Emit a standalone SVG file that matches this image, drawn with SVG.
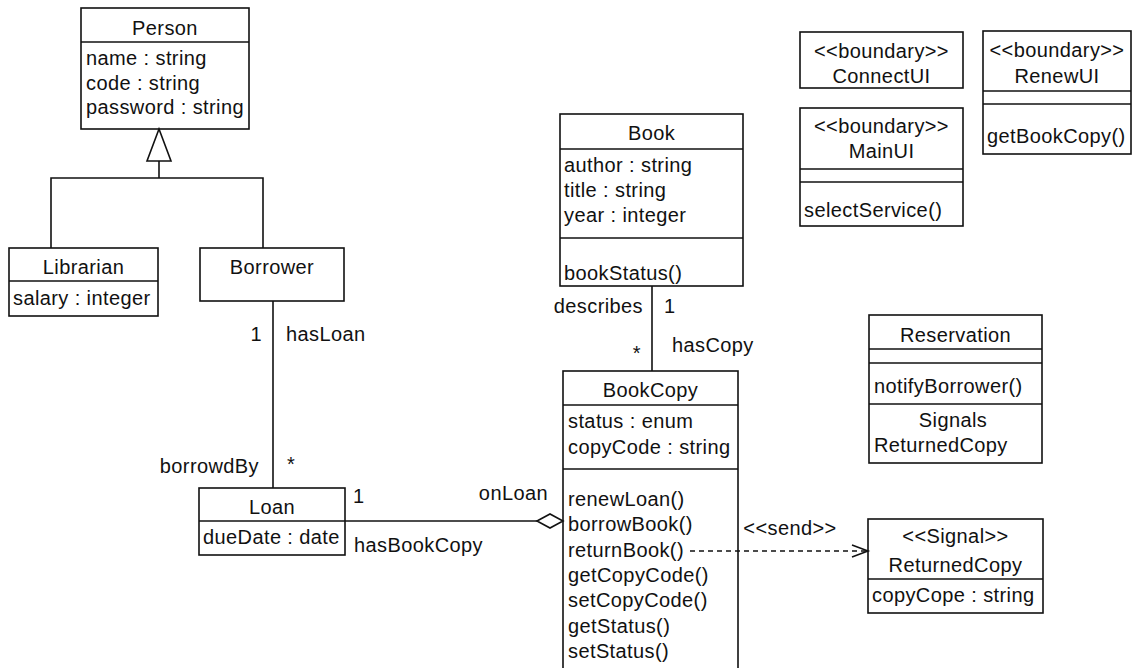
<svg xmlns="http://www.w3.org/2000/svg" width="1133" height="668" viewBox="0 0 1133 668">
  <defs>
    <style>
      text { font-family: "Liberation Sans", Arial, sans-serif; font-size: 20px; letter-spacing: 0.4px; fill: #111; }
      .c { text-anchor: middle; }
      .r { text-anchor: end; }
      .box { fill: #fff; stroke: #111; stroke-width: 1.6; }
      .ln { fill: none; stroke: #111; stroke-width: 1.6; }
      .dash { fill: none; stroke: #111; stroke-width: 1.4; stroke-dasharray: 5 4; }
    </style>
  </defs>
  <rect width="1133" height="668" fill="#fff"/>

  <g id="person">
    <rect class="box" x="81" y="8" width="168" height="121"/>
    <line class="ln" x1="81" y1="42" x2="249" y2="42"/>
    <text x="165" y="35" class="c">Person</text>
    <text x="86" y="65">name : string</text>
    <text x="86" y="90">code : string</text>
    <text x="86" y="114">password : string</text>
  </g>

  <g id="librarian">
    <rect class="box" x="9" y="248" width="149" height="68"/>
    <line class="ln" x1="9" y1="281" x2="158" y2="281"/>
    <text x="83.5" y="274" class="c">Librarian</text>
    <text x="13" y="305">salary : integer</text>
  </g>

  <g id="borrower">
    <rect class="box" x="200" y="248" width="144" height="53"/>
    <text x="272" y="274" class="c">Borrower</text>
  </g>

  <g id="loan">
    <rect class="box" x="199" y="488" width="146" height="67"/>
    <line class="ln" x1="199" y1="521" x2="345" y2="521"/>
    <text x="272" y="514" class="c">Loan</text>
    <text x="203" y="544">dueDate : date</text>
  </g>

  <g id="book">
    <rect class="box" x="560" y="114" width="183" height="172"/>
    <line class="ln" x1="560" y1="149" x2="743" y2="149"/>
    <line class="ln" x1="560" y1="238" x2="743" y2="238"/>
    <text x="651.5" y="140" class="c">Book</text>
    <text x="564" y="172">author : string</text>
    <text x="564" y="197">title : string</text>
    <text x="564" y="222">year : integer</text>
    <text x="564" y="280">bookStatus()</text>
  </g>

  <g id="bookcopy">
    <rect class="box" x="563" y="371" width="175" height="320"/>
    <line class="ln" x1="563" y1="405" x2="738" y2="405"/>
    <line class="ln" x1="563" y1="469" x2="738" y2="469"/>
    <text x="650.5" y="397" class="c">BookCopy</text>
    <text x="568" y="428">status : enum</text>
    <text x="568" y="454">copyCode : string</text>
    <text x="568" y="506">renewLoan()</text>
    <text x="568" y="531">borrowBook()</text>
    <text x="568" y="557">returnBook()</text>
    <text x="568" y="582">getCopyCode()</text>
    <text x="568" y="607">setCopyCode()</text>
    <text x="568" y="633">getStatus()</text>
    <text x="568" y="658">setStatus()</text>
  </g>

  <g id="connectui">
    <rect class="box" x="800" y="32" width="163" height="56"/>
    <text x="881.5" y="58" class="c">&lt;&lt;boundary&gt;&gt;</text>
    <text x="881.5" y="83" class="c">ConnectUI</text>
  </g>

  <g id="mainui">
    <rect class="box" x="800" y="108" width="163" height="118"/>
    <line class="ln" x1="800" y1="169" x2="963" y2="169"/>
    <line class="ln" x1="800" y1="182" x2="963" y2="182"/>
    <text x="881.5" y="133" class="c">&lt;&lt;boundary&gt;&gt;</text>
    <text x="881.5" y="158" class="c">MainUI</text>
    <text x="804" y="217">selectService()</text>
  </g>

  <g id="renewui">
    <rect class="box" x="983" y="31" width="148" height="123"/>
    <line class="ln" x1="983" y1="91" x2="1131" y2="91"/>
    <line class="ln" x1="983" y1="104" x2="1131" y2="104"/>
    <text x="1057" y="57" class="c">&lt;&lt;boundary&gt;&gt;</text>
    <text x="1057" y="83" class="c">RenewUI</text>
    <text x="987" y="143">getBookCopy()</text>
  </g>

  <g id="reservation">
    <rect class="box" x="869" y="315" width="173" height="148"/>
    <line class="ln" x1="869" y1="349" x2="1042" y2="349"/>
    <line class="ln" x1="869" y1="363" x2="1042" y2="363"/>
    <line class="ln" x1="869" y1="404" x2="1042" y2="404"/>
    <text x="955.5" y="342" class="c">Reservation</text>
    <text x="874" y="393">notifyBorrower()</text>
    <text x="953" y="427" class="c">Signals</text>
    <text x="874" y="452">ReturnedCopy</text>
  </g>

  <g id="returnedcopy">
    <rect class="box" x="868" y="519" width="175" height="94"/>
    <line class="ln" x1="868" y1="579" x2="1043" y2="579"/>
    <text x="955.5" y="543" class="c">&lt;&lt;Signal&gt;&gt;</text>
    <text x="955.5" y="572" class="c">ReturnedCopy</text>
    <text x="872" y="602">copyCope : string</text>
  </g>

  <!-- associations, generalization, dependency -->
  <g id="connectors">
    <!-- generalization: Librarian / Borrower to Person -->
    <polyline class="ln" points="51,248 51,178 263,178 263,248"/>
    <line class="ln" x1="159" y1="178" x2="159" y2="161"/>
    <polygon class="ln" points="159,129 147,161 171,161"/>
    <!-- Borrower - Loan -->
    <line class="ln" x1="273" y1="301" x2="273" y2="488"/>
    <text x="262" y="341" class="r">1</text>
    <text x="286" y="341">hasLoan</text>
    <text x="259" y="473" class="r">borrowdBy</text>
    <text x="287" y="471">*</text>
    <!-- Loan - BookCopy (aggregation) -->
    <line class="ln" x1="345" y1="521" x2="537" y2="521"/>
    <polygon class="ln" points="537,521 550,514 563,521 550,528" fill="#fff"/>
    <text x="353" y="503">1</text>
    <text x="354" y="552">hasBookCopy</text>
    <text x="548" y="500" class="r">onLoan</text>
    <!-- Book - BookCopy -->
    <line class="ln" x1="652" y1="286" x2="652" y2="371"/>
    <text x="643" y="313" class="r">describes</text>
    <text x="664" y="313">1</text>
    <text x="641" y="360" class="r">*</text>
    <text x="672" y="352">hasCopy</text>
    <!-- returnBook sends ReturnedCopy -->
    <line class="dash" x1="690" y1="551" x2="866" y2="551"/>
    <polyline class="ln" points="852,545 868,551 852,557"/>
    <text x="790" y="535" class="c">&lt;&lt;send&gt;&gt;</text>
  </g>
</svg>
